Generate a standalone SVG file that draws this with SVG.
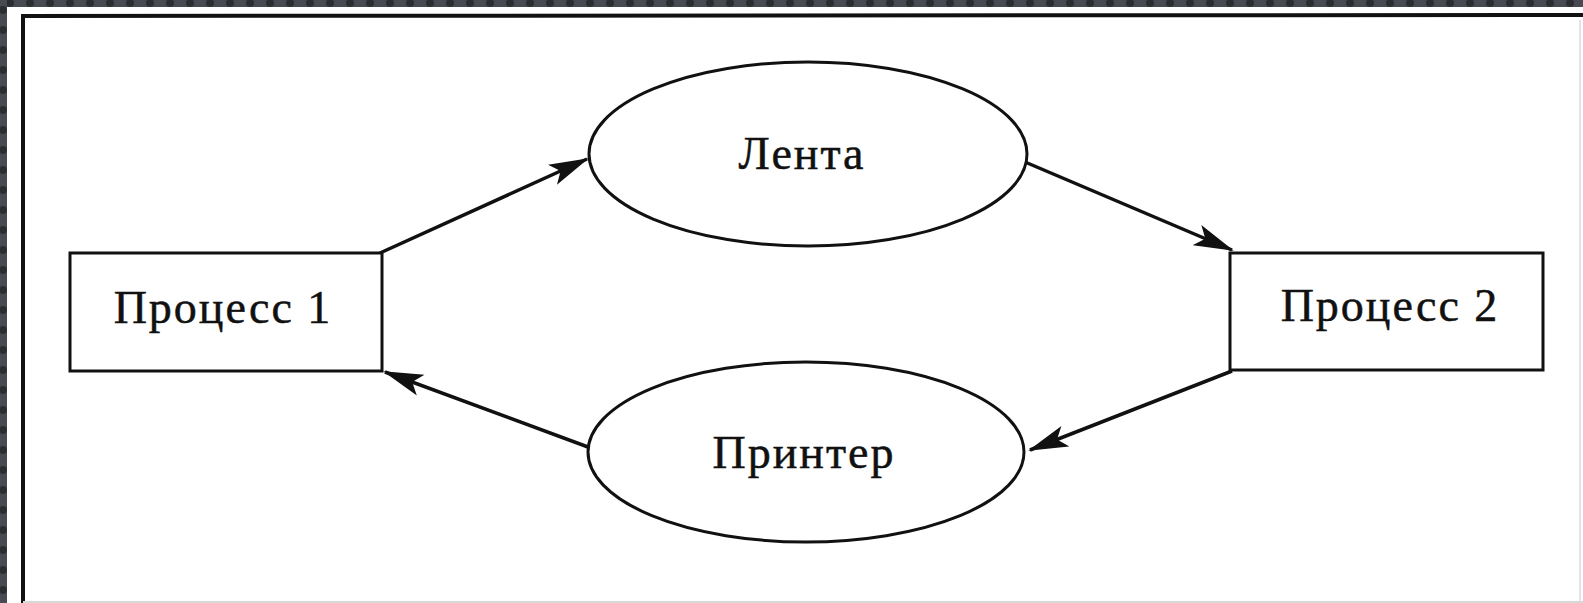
<svg xmlns="http://www.w3.org/2000/svg" width="1583" height="603" viewBox="0 0 1583 603">
<style>
.node{fill:#fff;stroke:#111;stroke-width:3}
.lbl{font-family:"Liberation Serif","Times New Roman",serif;font-size:46px;fill:#111;stroke:#111;stroke-width:0.5;text-anchor:middle;letter-spacing:2px}
.conn{stroke:#111;stroke-width:3.5;fill:none;marker-end:url(#ah)}
</style>
<defs>
<pattern id="dots" width="20" height="20" patternUnits="userSpaceOnUse">
<rect width="20" height="20" fill="#474a50"/>
<circle cx="10" cy="3" r="4" fill="#2b2d31"/>
</pattern>
<pattern id="dotsV" width="20" height="20" patternUnits="userSpaceOnUse">
<rect width="20" height="20" fill="#474a50"/>
<circle cx="3" cy="10" r="4" fill="#2b2d31"/>
</pattern>
<marker id="ah" viewBox="0 0 40 24" refX="38" refY="12" markerWidth="40" markerHeight="24" markerUnits="userSpaceOnUse" orient="auto">
<path d="M0,1 L40,12 L0,23 L9,12 Z" fill="#111"/>
</marker>
</defs>
<rect x="0" y="0" width="1583" height="603" fill="#fff"/>
<rect x="0" y="0" width="1583" height="7" fill="url(#dots)"/>
<rect x="0" y="0" width="7" height="603" fill="url(#dotsV)"/>
<path d="M23,603 L23,16 L1583,15" fill="none" stroke="#111" stroke-width="4"/>
<line x1="1580" y1="20" x2="1580" y2="603" stroke="#e4e4e4" stroke-width="2"/>
<line x1="23" y1="602" x2="1583" y2="602" stroke="#d8d8d8" stroke-width="2"/>

<g id="connectors">
<line class="conn" x1="380" y1="253" x2="587" y2="159"/>
<line class="conn" x1="1025" y1="162" x2="1232" y2="250"/>
<line class="conn" x1="588" y1="447" x2="385" y2="372"/>
<line class="conn" x1="1232" y1="371" x2="1030" y2="450"/>
</g>

<g id="process1">
<rect class="node" x="70" y="253" width="312" height="118"/>
<text class="lbl" x="223" y="323">Процесс 1</text>
</g>
<g id="process2">
<rect class="node" x="1230" y="253" width="313" height="117"/>
<text class="lbl" x="1390" y="321">Процесс 2</text>
</g>
<g id="tape">
<ellipse class="node" cx="808" cy="154" rx="219" ry="92"/>
<text class="lbl" x="802" y="169">Лента</text>
</g>
<g id="printer">
<ellipse class="node" cx="806" cy="452" rx="218" ry="90"/>
<text class="lbl" x="804" y="468">Принтер</text>
</g>
</svg>
